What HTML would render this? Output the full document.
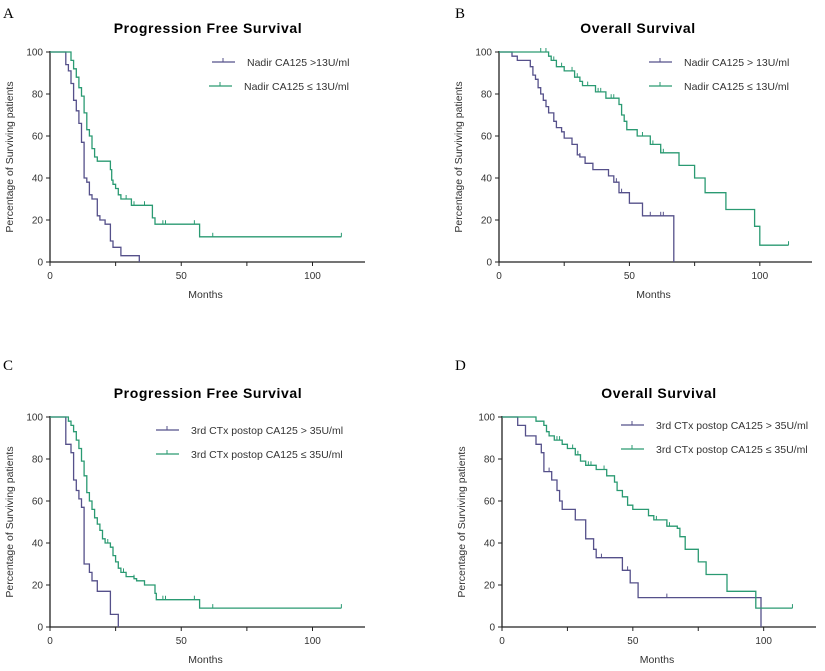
<!DOCTYPE html>
<html><head><meta charset="utf-8"><style>
body{margin:0;background:#fff;}
svg{display:block;font-family:"Liberation Sans",sans-serif;}
</style></head><body>
<svg id="s" width="825" height="671" xmlns="http://www.w3.org/2000/svg"></svg>
<script>
const S=document.getElementById('s');
let h='';
const P='#55508a',G='#2a9a72';
const panels=[
 {L:'A',lx:3,ly:18,title:'Progression Free Survival',tx:208,ty:33,x0:50,xe:365,y100:52,y0:262,
  leg:[[212,62,'Nadir CA125 >13U/ml',P],[209,86,'Nadir CA125 \u2264  13U/ml',G]],legTxt:[247,245],
  c:[[P,[[6,94],[7,91],[8,85],[9,77],[10,72],[11,66],[12,57],[13,40],[14,38],[15,32],[16,30],[18,22],[19,20],[21,18],[23,10],[24,7],[27,3],[34,0]],34,[]],
     [G,[[8,96],[9,92],[10,88],[11,83],[12,79],[13,71],[14,63],[15,60],[16,54],[17,50],[18,48],[23,44],[23.5,39],[24,37],[25,35],[26,32],[27,30],[31,27],[39,21],[40,18],[57,12]],111,[29,32,36,43,44,55,62,111]]]},
 {L:'B',lx:455,ly:18,title:'Overall Survival',tx:638,ty:33,x0:499,xe:812,y100:52,y0:262,
  leg:[[649,62,'Nadir CA125 > 13U/ml',P],[649,86,'Nadir CA125 \u2264  13U/ml',G]],
  c:[[P,[[5,98],[7,96],[12,93],[13,89],[14,87],[15,83],[16,80],[17,77],[18,74],[19,71],[21,67],[22,64],[24,62],[25,59],[28,56],[30,51],[31,50],[33,47],[36,44],[42,41],[44,38],[46,33],[50,28],[55,22],[67,0]],67,[19,31,45,47,58,62,63]],
     [G,[[19,98],[20,96],[22,93],[25,91],[29,88],[31,86],[32,84],[37,81],[41,78],[46,75],[47,70],[48,67],[49,63],[53,60],[58,56],[62,52],[69,46],[75,40],[79,33],[87,25],[98,17],[100,8]],111,[16,18,21,24,28,30,34,38,39,43,44,55,59,62,63,111]]]},
 {L:'C',lx:3,ly:370,title:'Progression Free Survival',tx:208,ty:398,x0:50,xe:365,y100:417,y0:627,
  leg:[[156,430,'3rd CTx postop CA125 > 35U/ml',P],[156,454,'3rd CTx postop CA125 \u2264 35U/ml',G]],
  c:[[P,[[6,87],[8,83],[9,70],[10,65],[11,61],[12,57],[13,30],[15,26],[16,22],[18,17],[23,6],[26,0]],26,[]],
     [G,[[7,98],[8,96],[9,93],[10,89],[11,85],[12,79],[13,72],[14,64],[15,60],[16,56],[17,52],[18,49],[19,46],[20,42],[21,40],[23,38],[24,34],[25,31],[26,28],[27,26],[29,24],[32,23],[33,22],[36,20],[40,16],[40.5,13],[57,9]],111,[20,22,28,32,36,43,44,55,62,111]]]},
 {L:'D',lx:455,ly:370,title:'Overall Survival',tx:659,ty:398,x0:502,xe:816,y100:417,y0:627,
  leg:[[621,425,'3rd CTx postop CA125 > 35U/ml',P],[621,449,'3rd CTx postop CA125 \u2264  35U/ml',G]],
  c:[[P,[[6,96],[9,91],[13,87],[15,83],[16,74],[19,70],[21,65],[22,60],[23,56],[28,51],[32,42],[35,37],[36,33],[46,27],[49,21],[52,14],[99,0]],99,[18,38,48,63]],
     [G,[[13,98],[16,96],[17,93],[18,91],[20,89],[23,87],[25,85],[28,82],[30,79],[32,77],[36,75],[40,72],[43,69],[44,65],[46,62],[48,58],[50,56],[56,53],[58,51],[63,48],[67,47],[68,43],[70,37],[75,31],[78,25],[86,17],[97,9]],111,[16,21,22,27,29,33,34,39,43,59,63,64,111]]]}
];
for(const p of panels){
 const kx=(p.xe-p.x0)/120*1.0, ky=(p.y0-p.y100)/100;
 const X=m=>p.x0+m*( (p.xe-p.x0)/120 ), Y=v=>p.y0-v*ky;
 h+=`<text x="${p.lx}" y="${p.ly}" font-family="Liberation Serif" font-size="15">${p.L}</text>`;
 h+=`<text x="${p.tx}" y="${p.ty}" text-anchor="middle" font-weight="bold" font-size="14" letter-spacing="0.6">${p.title}</text>`;
 // axes
 h+=`<path d="M${p.x0} ${p.y100-1}V${p.y0}H${p.xe}" stroke="#222" stroke-width="1.3" fill="none"/>`;
 for(let v=0;v<=100;v+=20){h+=`<line x1="${p.x0-4}" x2="${p.x0}" y1="${Y(v)}" y2="${Y(v)}" stroke="#222"/><text x="${p.x0-7}" y="${Y(v)+3.5}" text-anchor="end" font-size="10" fill="#333">${v}</text>`;}
 for(let m=0;m<=120;m+=25){h+=`<line x1="${X(m)}" x2="${X(m)}" y1="${p.y0}" y2="${p.y0+4}" stroke="#222"/>`;}
 for(const m of [0,50,100])h+=`<text x="${X(m)}" y="${p.y0+17}" text-anchor="middle" font-size="10" fill="#333">${m}</text>`;
 h+=`<text x="${(p.x0+p.xe)/2-2}" y="${p.y0+36}" text-anchor="middle" font-size="10.5" fill="#333">Months</text>`;
 const cy=(p.y0+p.y100)/2;
 h+=`<text transform="translate(${p.x0-37},${cy}) rotate(-90)" text-anchor="middle" font-size="10.5" fill="#333">Percentage of Surviving patients</text>`;
 for(const [x,y,t,c] of p.leg){
  h+=`<line x1="${x}" x2="${x+23}" y1="${y}" y2="${y}" stroke="${c}" stroke-width="1.3"/><line x1="${x+11}" x2="${x+11}" y1="${y-4}" y2="${y}" stroke="${c}"/>`;
  h+=`<text x="${x+35}" y="${y+4}" font-size="10.5" fill="#333">${t}</text>`;
 }
 for(const [c,pts,end,cens] of p.c){
  let d=`M${X(0)} ${Y(100)}`;let cur=100;
  for(const [m,v] of pts){d+=`H${X(m).toFixed(1)}V${Y(v).toFixed(1)}`;cur=v;}
  d+=`H${X(end).toFixed(1)}`;
  h+=`<path d="${d}" stroke="${c}" stroke-width="1.3" fill="none"/>`;
  for(const m of cens){let v=100;for(const [mm,vv] of pts){if(mm<=m)v=vv;}
   h+=`<line x1="${X(m)}" x2="${X(m)}" y1="${Y(v)-4}" y2="${Y(v)}" stroke="${c}"/>`;}
 }
}
S.innerHTML=h;
</script>
</body></html>
